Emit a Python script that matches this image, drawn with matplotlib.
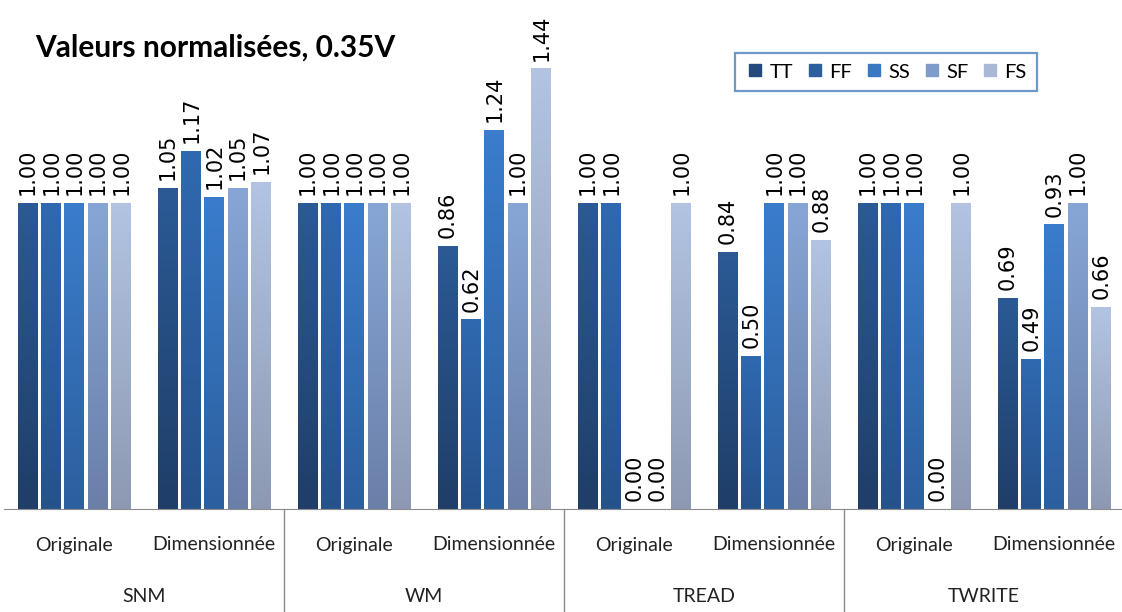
import numpy as np
import matplotlib.pyplot as plt
from matplotlib.colors import LinearSegmentedColormap
from matplotlib.transforms import blended_transform_factory

groups = ['SNM', 'WM', 'TREAD', 'TWRITE']
subgroups = ['Originale', 'Dimensionnée']
series = ['TT', 'FF', 'SS', 'SF', 'FS']

# one row per (group, subgroup), columns follow `series`
snm_orig = [1.00, 1.00, 1.00, 1.00, 1.00]
snm_dim = [1.05, 1.17, 1.02, 1.05, 1.07]
wm_orig = [1.00, 1.00, 1.00, 1.00, 1.00]
wm_dim = [0.86, 0.62, 1.24, 1.00, 1.44]
tread_orig = [1.00, 1.00, 0.00, 0.00, 1.00]
tread_dim = [0.84, 0.50, 1.00, 1.00, 0.88]
twrite_orig = [1.00, 1.00, 1.00, 0.00, 1.00]
twrite_dim = [0.69, 0.49, 0.93, 1.00, 0.66]

values = np.array([snm_orig, snm_dim, wm_orig, wm_dim,
                   tread_orig, tread_dim, twrite_orig, twrite_dim])

top_colors = ['#2b5a95', '#3069b0', '#3a7dcc', '#87a6d6', '#b2c4e2']
bottom_colors = ['#1f3e68', '#26528c', '#2c5f9e', '#6a7fa8', '#8d99b2']
legend_colors = ['#24497c', '#2d5e9e', '#3a78c4', '#7f9bc9', '#a9b8d6']

W, H = 1122, 612
fig = plt.figure(figsize=(W / 100, H / 100), dpi=100)
base_px, top_px = 509, 40
ax = fig.add_axes([4 / W, (H - base_px) / H, 1120 / W, (base_px - top_px) / H])

n_slots = values.shape[0]
pitch = 1 / 6
width = 0.82 * pitch
ylim = (0, (base_px - top_px) / 306)

grad = np.linspace(0, 1, 256).reshape(-1, 1)
for i, name in enumerate(series):
    xs = np.arange(n_slots) + (i + 1) * pitch
    bars = ax.bar(xs, values[:, i], width=width, color='none', edgecolor='none')
    cmap = LinearSegmentedColormap.from_list(name, [bottom_colors[i], top_colors[i]])
    for b, v in zip(bars, values[:, i]):
        if v > 0:
            x0, y0 = b.get_x(), b.get_y()
            im = ax.imshow(grad, cmap=cmap, origin='lower', aspect='auto',
                           extent=[x0, x0 + b.get_width(), y0, y0 + b.get_height()],
                           zorder=2)
            im.set_clip_path(b)
        ax.annotate(f'{v:.2f}', (b.get_x() + b.get_width() / 2, v),
                    xytext=(0.5, 5.5), textcoords='offset points', rotation=90,
                    ha='center', va='bottom', fontsize=15, family='DejaVu Sans',
                    color='black')

# imshow resets the limits
ax.set_xlim(0, n_slots)
ax.set_ylim(*ylim)

for s in ['top', 'right', 'left']:
    ax.spines[s].set_visible(False)
ax.spines['bottom'].set_color('#8c8c8c')
ax.set_xticks([])
ax.set_yticks([])

# two-level category axis
trans = blended_transform_factory(ax.transData, ax.transAxes)
span = base_px - top_px
sub_y = -(545 - base_px) / span
grp_y = -(597 - base_px) / span
bottom_y = -(H - base_px) / span
for s in range(n_slots):
    ax.text(s + 0.5, sub_y, subgroups[s % 2], transform=trans, ha='center',
            va='center', fontsize=14, family='Lato', color='#222222')
for g, name in enumerate(groups):
    ax.text(2 * g + 1, grp_y, name, transform=trans, ha='center', va='center',
            fontsize=14, family='Lato', color='#222222')
    if g > 0:
        ax.plot([2 * g, 2 * g], [0, bottom_y], transform=trans, color='#8c8c8c',
                lw=1, clip_on=False)

fig.text(35 / W, 1 - 48 / H, 'Valeurs normalisées, 0.35V', fontsize=21.5,
         fontweight='bold', family='Lato', va='center', ha='left')

handles = [plt.Line2D([], [], marker='s', ls='none', markersize=8.5,
                      color=c) for c in legend_colors]
leg = fig.legend(handles, series, ncol=5, loc='center',
                 bbox_to_anchor=(886 / W, 1 - 72 / H), frameon=True,
                 fancybox=False, handletextpad=0.2, columnspacing=0.6,
                 handlelength=1.0, borderpad=0.5,
                 prop={'family': 'Lato', 'size': 14.5})
leg.get_frame().set_edgecolor('#4a7ebb')
leg.get_frame().set_linewidth(1.6)

fig.savefig('out.png', dpi=100)
